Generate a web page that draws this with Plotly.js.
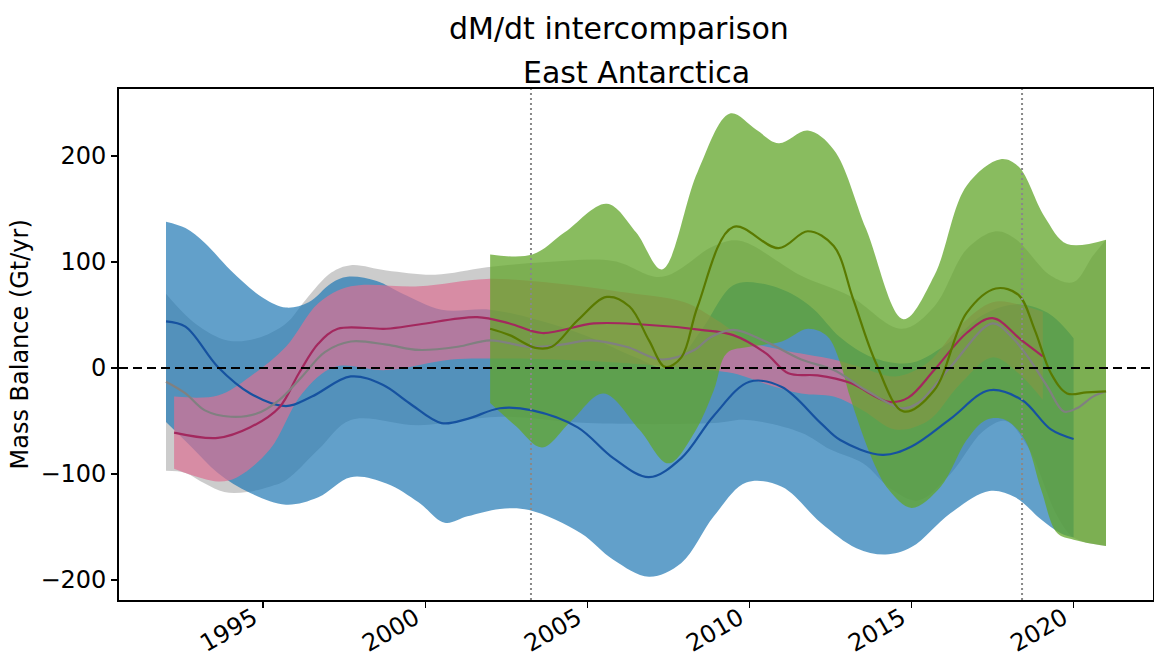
<!DOCTYPE html>
<html><head><meta charset="utf-8">
<script src="https://cdn.plot.ly/plotly-3.0.1.min.js"></script>
<style>html,body{margin:0;padding:0;background:#fff}#chart{width:1154px;height:664px}</style>
</head><body><div id="chart"></div>
<script>
// ---------- Combined (gray) ----------
const grayLineX = [1992,1992.6,1993.2,1994.0,1994.8,1995.5,1996.2,1996.9,1997.7,1998.8,1999.8,2001,2002,2003.2,2004.2,2005.1,2006.2,2007.3,2008.3,2008.8,2009.5,2010.5,2011.6,2012.6,2013.6,2014.7,2015.2,2016.2,2017.5,2018.1,2018.6,2019.2,2019.7,2020.1,2020.6,2021];
const grayLineY = [-13,-24,-40,-46,-43,-30,-8,15,25,22,17,20,26,20,22,26,20,8,17,29,36,25,8,-2,-21,-38,-33,1,42,29,10,-18,-41,-38,-27,-22];
const grayTopX = [1992,1992.9,1993.9,1994.8,1995.7,1996.3,1997.1,1997.7,1998.8,2000.3,2001.9,2003.75,2005.8,2007.3,2008.9,2009.7,2011.6,2013.1,2014.7,2015.7,2016.7,2017.6,2018.2,2019.3,2020,2020.6,2021];
const grayTopY = [70,42,26,28,42,64,90,97,92,88,95,100,101,86,115,120,87,68,37,58,112,129,122,87,81,106,121];
const grayBotX = [1992,1992.6,1993.2,1993.8,1994.5,1995.2,1995.7,1996.7,1997.7,1999.8,2002.3,2005,2008.9,2009.9,2011.6,2012.5,2013.5,2014.4,2015.2,2016.2,2017.2,2017.9,2018.6,2019.5,2020,2021];
const grayBotY = [-97,-99,-109,-117,-117,-112,-106,-77,-49,-54,-46,-52,-52,-49,-61,-77,-90,-115,-125,-100,-60,-50,-75,-140,-160,-168];

// ---------- Blue ----------
const blueLineX = [1992,1992.6,1993.6,1994.6,1995.7,1996.5,1997.7,1998.7,1999.5,2000.5,2001.3,2002.3,2003.3,2004.7,2005.8,2006.9,2007.9,2008.9,2010.0,2011.0,2012.2,2012.8,2014.1,2015.0,2016.2,2017.4,2018.4,2019.3,2020];
const blueLineY = [44,39,1,-24,-36,-27,-8,-16,-33,-52,-48,-38,-40,-56,-85,-103,-85,-45,-13,-18,-52,-68,-82,-74,-48,-21,-30,-58,-67];
const blueTopX = [1992,1992.6,1993.2,1994.0,1995.0,1995.7,1996.4,1997.1,1997.6,1998.5,1999.3,2000.5,2002,2003.5,2005,2006.5,2007.5,2008.5,2009.5,2010.3,2011.3,2012.0,2012.8,2013.8,2015,2016.2,2017.2,2018.2,2019.2,2020];
const blueTopY = [138,132,118,92,66,57,62,80,86,82,70,55,55,45,30,10,0,35,78,80,70,55,29,10,5,25,50,60,52,28];
const blueBotX = [1992,1992.8,1993.6,1994.6,1995.7,1996.7,1997.7,1998.8,1999.8,2000.6,2001.3,2002.3,2003.2,2004.8,2005.8,2006.9,2007.9,2008.9,2009.9,2011.0,2012.2,2013.3,2014.2,2015.0,2016.2,2017.4,2018.2,2019.0,2019.6,2020];
const blueBotY = [-51,-75,-99,-118,-129,-122,-103,-109,-127,-146,-140,-133,-134,-156,-181,-197,-184,-140,-108,-112,-146,-170,-176,-169,-137,-116,-122,-143,-156,-160];

// ---------- Pink ----------
const pinkLineX = [1992.25,1993.6,1994.6,1995.5,1996.1,1996.7,1997.3,1998.8,1999.8,2001.6,2002.6,2003.6,2005.2,2006.7,2008.5,2009.5,2010.5,2011.2,2012.1,2013.1,2014.3,2014.9,2015.7,2016.7,2017.5,2018.4,2019.05];
const pinkLineY = [-61,-66,-56,-37,-5,23,37,37,41,48,42,33,42,41,36,31,14,-5,-7,-14,-32,-28,-2,33,47,26,11];
const pinkTopX = [1992.25,1993.6,1994.6,1995.7,1996.7,1997.7,1999.8,2001.9,2004,2006,2008,2009,2010,2011,2012.6,2013.5,2014.5,2015.5,2016.5,2017.5,2018.3,2019.05];
const pinkTopY = [-27,-26,-8,20,61,77,77,84,80,72,62,45,25,17,8,0,-8,5,40,62,60,53];
const pinkBotX = [1992.25,1993.6,1994.2,1995.2,1996.2,1997.2,1998.8,2000.8,2002,2004,2006,2008,2009.5,2010.5,2011.6,2012.6,2013.5,2014.5,2015.5,2016.5,2017.5,2018.3,2019.05];
const pinkBotY = [-95,-107,-103,-77,-24,1,-2,8,9,8,5,0,-5,-15,-24,-27,-40,-58,-50,-15,10,-5,-30];

// ---------- Green ----------
const greenLineX = [2002,2002.6,2003.4,2003.9,2004.7,2005.6,2006.3,2006.9,2007.4,2007.9,2008.4,2009.5,2010.9,2011.8,2012.6,2013.2,2013.9,2014.75,2015.7,2016.7,2017.6,2018.3,2018.8,2019.3,2019.8,2020.4,2021];
const greenLineY = [37,31,19,20,45,67,58,26,1,10,58,133,113,129,115,65,5,-41,-21,52,75,69,36,-5,-24,-23,-22];
const greenTopX = [2002,2003.3,2004.3,2005.6,2006.5,2007.3,2008.4,2009.4,2010.2,2010.9,2011.8,2012.6,2013.6,2014.75,2015.7,2016.7,2017.75,2018.3,2019.1,2019.8,2021];
const greenTopY = [107,107,128,155,128,93,185,240,225,212,224,206,131,46,87,172,197,190,143,117,121];
const greenBotX = [2002,2002.8,2003.6,2004.5,2005.5,2006.6,2007.5,2008.3,2008.9,2009.3,2010,2011,2011.8,2012.4,2012.8,2013.1,2013.8,2014.3,2015,2015.9,2016.7,2017.3,2017.9,2018.5,2019,2019.5,2020,2021];
const greenBotY = [-33,-55,-75,-50,-24,-58,-90,-61,-21,14,20,25,37,30,5,-27,-87,-115,-132,-112,-68,-49,-49,-68,-115,-156,-162,-168];

// ---------- Axis / reference marks ----------
const xTickVals = [1995,2000,2005,2010,2015,2020];
const yTickVals = [-200,-100,0,100,200];
const markerYears = [2003.26,2018.41];

function band(xb,yb,xt,yt,fill){
  return [
    {x:xb,y:yb,type:'scatter',mode:'lines',line:{width:0,shape:'spline',color:fill},hoverinfo:'skip',showlegend:false},
    {x:xt,y:yt,type:'scatter',mode:'lines',fill:'tonexty',fillcolor:fill,line:{width:0,shape:'spline',color:fill},hoverinfo:'skip',showlegend:false}
  ];
}
function line(x,y,color){
  return {x:x,y:y,type:'scatter',mode:'lines',line:{width:2.2,shape:'spline',color:color},hoverinfo:'skip',showlegend:false};
}

const data = [].concat(
  band(grayBotX,grayBotY,grayTopX,grayTopY,'rgba(128,128,128,0.4)'),
  band(blueBotX,blueBotY,blueTopX,blueTopY,'rgba(31,119,180,0.7)'),
  band(pinkBotX,pinkBotY,pinkTopX,pinkTopY,'rgba(219,112,147,0.7)'),
  band(greenBotX,greenBotY,greenTopX,greenTopY,'rgba(98,166,42,0.75)'),
  [line(blueLineX,blueLineY,'#1652a0'),
   line(pinkLineX,pinkLineY,'#a3285e'),
   line(grayLineX,grayLineY,'#808080'),
   line(greenLineX,greenLineY,'#5a7a00')]
);

const shapes = [
  {type:'line',xref:'paper',yref:'y',x0:0,x1:1,y0:0,y1:0,line:{color:'black',width:2,dash:'9px,5px'},layer:'above'}
].concat(markerYears.map(v=>({type:'line',xref:'x',yref:'paper',x0:v,x1:v,y0:0,y1:1,line:{color:'#888',width:2,dash:'2px,3px'},layer:'above'})));

const font = {family:'DejaVu Sans, sans-serif', color:'black'};
const layout = {
  width:1154, height:664,
  margin:{l:119,r:1,t:89,b:64,pad:0},
  paper_bgcolor:'white', plot_bgcolor:'white',
  font:font, showlegend:false, hovermode:false,
  xaxis:{range:[1990.55,2022.45], tickvals:xTickVals, ticktext:xTickVals.map(String), tickangle:-30,
    ticks:'outside', ticklen:6, tickwidth:1.5, tickcolor:'black',
    ticklabelstandoff:-13, ticklabelshift:-10,
    showline:true, linecolor:'black', linewidth:1.8, mirror:true,
    showgrid:false, zeroline:false, tickfont:{family:font.family,size:24,color:'black'}},
  yaxis:{range:[-218.9,263.2], tickvals:yTickVals, ticks:'outside', ticklen:6, tickwidth:1.5, tickcolor:'black',
    showline:true, linecolor:'black', linewidth:1.8, mirror:true,
    showgrid:false, zeroline:false, tickfont:{family:font.family,size:24,color:'black'}},
  shapes:shapes,
  annotations:[
    {text:'dM/dt intercomparison', xref:'paper', yref:'paper', x:(619-119)/1034, y:1+(89-28)/511, xanchor:'center', yanchor:'middle', showarrow:false, font:{family:font.family,size:30,color:'black'}},
    {text:'East Antarctica', xref:'paper', yref:'paper', x:0.5, y:1+(89-72)/511, xanchor:'center', yanchor:'middle', showarrow:false, font:{family:font.family,size:30,color:'black'}},
    {text:'Mass Balance (Gt/yr)', xref:'paper', yref:'paper', x:(19-119)/1034, y:0.5, xanchor:'center', yanchor:'middle', textangle:-90, showarrow:false, font:{family:font.family,size:24,color:'black'}}
  ]
};
Plotly.newPlot('chart', data, layout, {displayModeBar:false, staticPlot:true});
</script>
</body></html>
